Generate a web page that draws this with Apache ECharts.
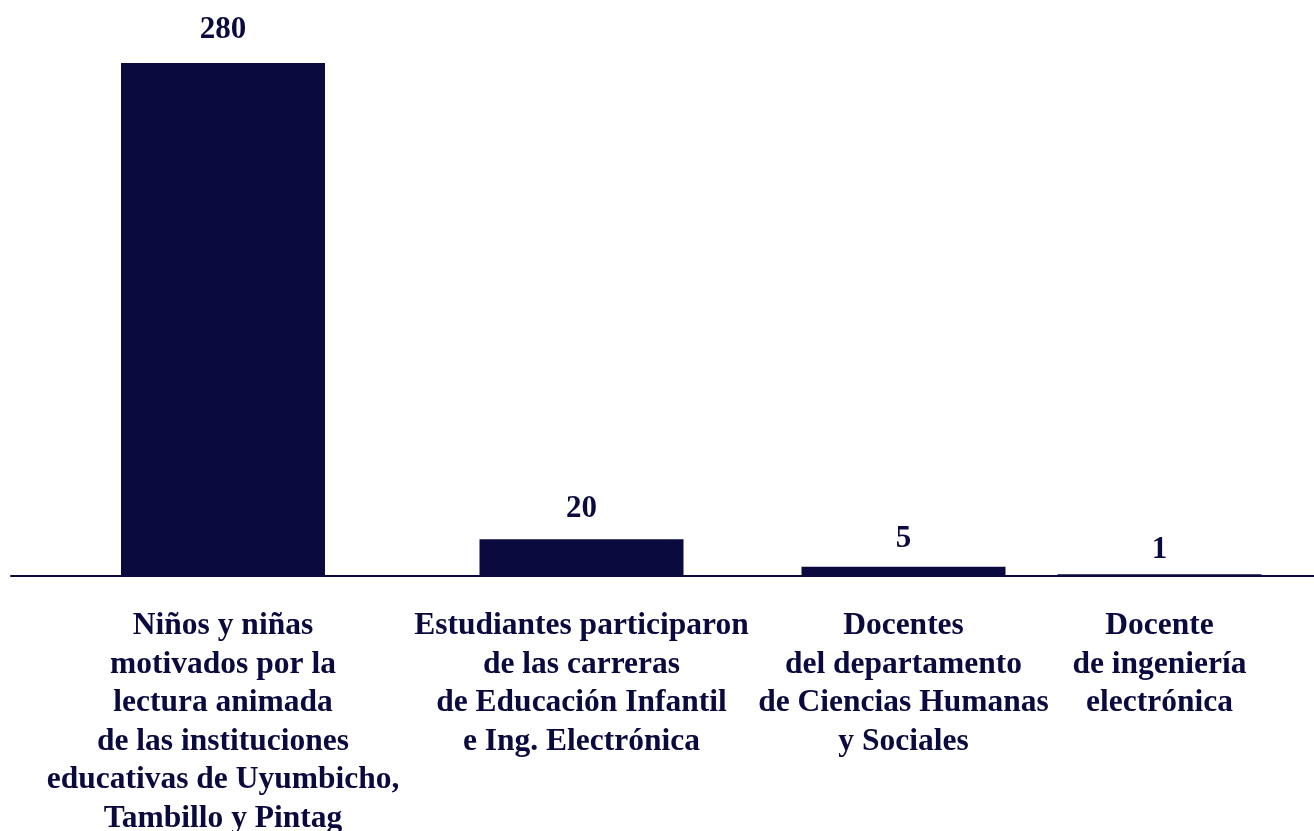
<!DOCTYPE html>
<html><head><meta charset="utf-8">
<script src="https://cdn.jsdelivr.net/npm/echarts@6/dist/echarts.min.js"></script>
<style>html,body{margin:0;padding:0;background:#fff}#c{width:1314px;height:831px}</style>
</head><body><div id="c"></div>
<script>
const categories = [
  "Niños y niñas\nmotivados por la\nlectura animada\nde las instituciones\neducativas de Uyumbicho,\nTambillo y Pintag",
  "Estudiantes participaron\nde las carreras\nde Educación Infantil\ne Ing. Electrónica",
  "Docentes\ndel departamento\nde Ciencias Humanas\ny Sociales",
  "Docente\nde ingeniería\nelectrónica"
];
const values = [280, 20, 5, 1];

const color = '#0b0a3e';
const font = '"Liberation Serif", "DejaVu Serif", serif';
// layout boxes (one per category, to reproduce the uneven spacing)
const boxes = [
  {left: 11, width: 424, labelGap: 18},
  {left: 435, width: 293, labelGap: 15},
  {left: 728, width: 351, labelGap: 12},
  {left: 1005, width: 309, labelGap: 9}
];
const grids = [], xAxes = [], yAxes = [], series = [];
categories.forEach((c, i) => {
  grids.push({left: boxes[i].left, width: boxes[i].width, top: 63, height: 513, outerBoundsMode: 'none', containLabel: false});
  xAxes.push({
    type: 'category', gridIndex: i, data: [c],
    axisLine: {show: true, lineStyle: {color: color, width: 2}},
    axisTick: {show: false},
    axisLabel: {interval: 0, color: color, fontFamily: font, fontWeight: 'bold', fontSize: 31.5, lineHeight: 38.5, margin: 31, align: 'center'}
  });
  yAxes.push({type: 'value', gridIndex: i, min: 0, max: 280, show: false, splitLine: {show: false}});
  series.push({
    type: 'bar', xAxisIndex: i, yAxisIndex: i, data: [values[i]],
    barWidth: 204, itemStyle: {color: color},
    label: {show: true, position: 'top', distance: boxes[i].labelGap, color: color, fontFamily: font, fontWeight: 'bold', fontSize: 31},
    silent: true, animation: false
  });
});
const chart = echarts.init(document.getElementById('c'));
chart.setOption({animation: false, grid: grids, xAxis: xAxes, yAxis: yAxes, series: series});
</script>
</body></html>
